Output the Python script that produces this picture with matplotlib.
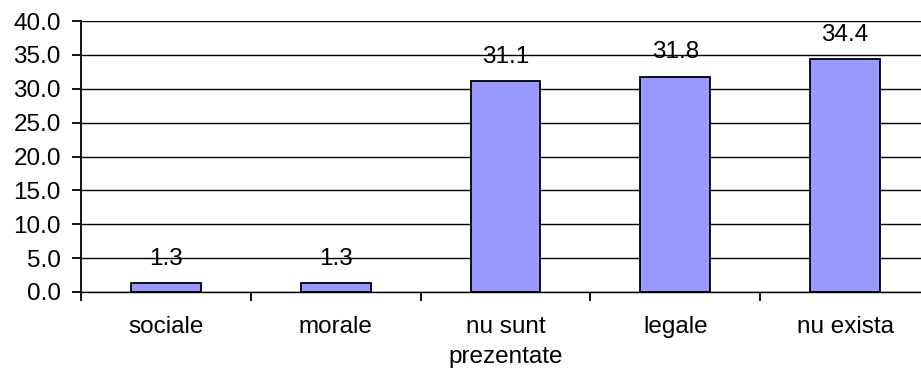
import numpy as np
import matplotlib.pyplot as plt

categories = ["sociale", "morale", "nu sunt\nprezentate", "legale", "nu exista"]
values = [1.3, 1.3, 31.1, 31.8, 34.4]

plt.rcParams['font.family'] = ['Liberation Sans', 'DejaVu Sans']

fig = plt.figure(figsize=(9.21, 3.71), dpi=100)
# plot area runs a bit past the right edge of the picture, as in the original
ax = fig.add_axes([81 / 921, (371 - 292) / 371, 849 / 921, 271 / 371])

x = np.arange(len(categories))
ax.set_axisbelow(True)
ax.yaxis.grid(True, color='black', linewidth=1.0)
bars = ax.bar(x, values, width=0.41, color='#9999FF', edgecolor='black', linewidth=1.3, zorder=3)

for xi, v in zip(x, values):
    ax.annotate(f"{v:.1f}", (xi, v), xytext=(0, 9.5), textcoords='offset points',
                ha='center', va='bottom', fontsize=17.5, zorder=4)

ax.set_xlim(-0.5, len(categories) - 0.5)
ax.set_ylim(0, 40)
ax.set_yticks(np.arange(0, 40.1, 5))
ax.set_yticklabels([f"{t:.1f}" for t in np.arange(0, 40.1, 5)])
ax.set_xticks(x)
ax.set_xticklabels(categories, fontsize=17.5, linespacing=1.5)
ax.set_xticks(np.arange(-0.5, len(categories) + 0.5, 1), minor=True)
ax.tick_params(axis='x', which='major', length=0, pad=17)
ax.tick_params(axis='x', which='minor', length=6.5, width=1.3, color='black')
ax.tick_params(axis='y', length=6.5, width=1.3, pad=8, labelsize=17.5)

for s in ['top', 'right']:
    ax.spines[s].set_visible(False)
ax.spines['left'].set_linewidth(1.3)
ax.spines['bottom'].set_linewidth(1.0)

fig.savefig("out.png", dpi=100)
